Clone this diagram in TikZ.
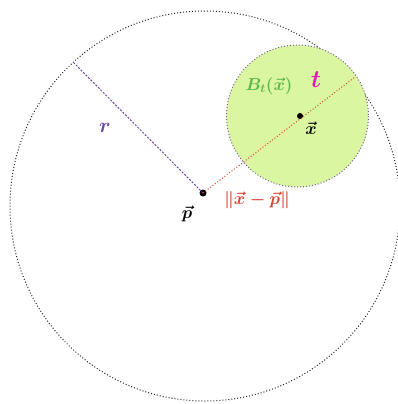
\documentclass[tikz,border=0pt]{standalone}
\usepackage{amsmath}
\definecolor{ballgreen}{RGB}{218,246,160}
\definecolor{rline}{RGB}{110,70,170}
\definecolor{dline}{RGB}{220,70,50}
\definecolor{lblgreen}{RGB}{92,184,74}
\definecolor{lblmag}{RGB}{226,30,180}
\definecolor{lblred}{RGB}{214,66,46}
\begin{document}
\begin{tikzpicture}[x=1pt,y=-1pt,
  dotpt/.style={circle,fill=black,inner sep=0pt,minimum size=7pt},
  bigcirc/.style={draw=black!85,dotted,line width=1pt},
  ballcirc/.style={draw=rline!50!gray,dotted,line width=1pt,fill=ballgreen},
  lbl/.style={inner sep=1pt,font=\LARGE\boldmath}]
\useasboundingbox (0,0) rectangle (398,404);
\fill[white] (0,0) rectangle (398,404);
% big circle
\draw[bigcirc] (205,206) circle (195);
% ball
\draw[ballcirc] (297.5,116) circle (71);
% points
\node[dotpt] (p) at (203,193) {};
\node[dotpt,minimum size=6pt] (x) at (300,116) {};
\coordinate (rend) at (73,62);
\coordinate (tend) at (355,77);
% lines
\draw[rline,dash pattern=on 2pt off 1.5pt,line width=1pt] (p.center) -- (rend);
\draw[dline,dotted,line width=1pt] (p.center) -- (tend);
% labels
\node[lbl,text=rline,font=\huge\boldmath] (rlbl) at (105,128) {$r$};
\node[lbl,text=black] (plbl) at (187,214) {$\vec{p}$};
\node[lbl,text=lblred,font=\LARGE\boldmath] (dlbl) at (257,200) {$\lVert\vec{x}-\vec{p}\rVert$};
\node[lbl,text=lblgreen] (blbl) at (269,86) {$B_t(\vec{x})$};
\node[lbl,text=lblmag,font=\Huge\boldmath] (tlbl) at (316,80) {$t$};
\node[lbl,text=black] (xlbl) at (311,128) {$\vec{x}$};
\end{tikzpicture}
\end{document}
